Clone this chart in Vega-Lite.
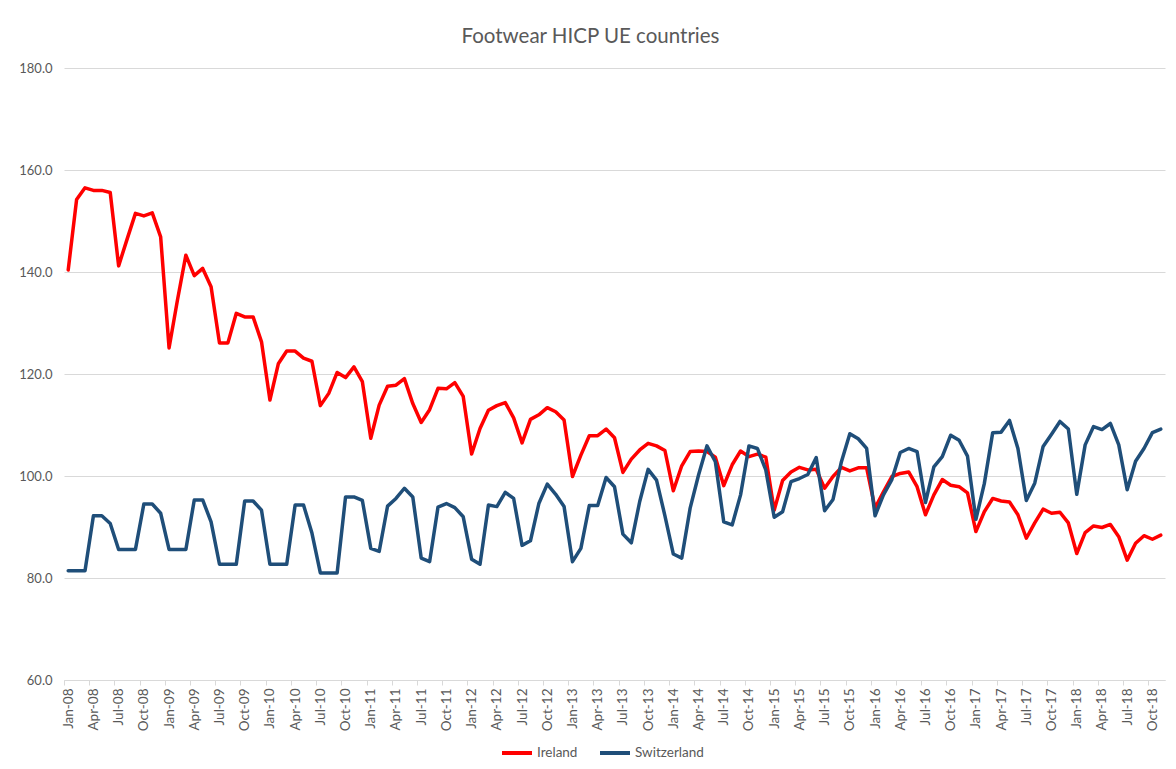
{
  "$schema": "https://vega.github.io/schema/vega-lite/v6.json",
  "autosize": "none",
  "width": 1101,
  "height": 612,
  "padding": {"left": 64, "top": 68, "right": 11, "bottom": 89},
  "background": "white",
  "config": {"font": "Lato", "view": {"stroke": null}},
  "title": {"text": "Footwear HICP UE countries", "fontSize": 20.5, "fontWeight": "normal", "color": "#595959", "font": "Lato", "anchor": "middle", "offset": 15, "dx": -24},
  "data": {"values": [
{"m":"Jan-08","c":"Ireland","v":140.4},{"m":"Feb-08","c":"Ireland","v":154.2},{"m":"Mar-08","c":"Ireland","v":156.5},{"m":"Apr-08","c":"Ireland","v":156.0},{"m":"May-08","c":"Ireland","v":156.0},{"m":"Jun-08","c":"Ireland","v":155.6},{"m":"Jul-08","c":"Ireland","v":141.2},{"m":"Aug-08","c":"Ireland","v":146.4},{"m":"Sep-08","c":"Ireland","v":151.5},{"m":"Oct-08","c":"Ireland","v":151.0},{"m":"Nov-08","c":"Ireland","v":151.6},{"m":"Dec-08","c":"Ireland","v":146.9},
{"m":"Jan-09","c":"Ireland","v":125.1},{"m":"Feb-09","c":"Ireland","v":134.5},{"m":"Mar-09","c":"Ireland","v":143.3},{"m":"Apr-09","c":"Ireland","v":139.3},{"m":"May-09","c":"Ireland","v":140.7},{"m":"Jun-09","c":"Ireland","v":137.1},{"m":"Jul-09","c":"Ireland","v":126.1},{"m":"Aug-09","c":"Ireland","v":126.1},{"m":"Sep-09","c":"Ireland","v":131.9},{"m":"Oct-09","c":"Ireland","v":131.2},{"m":"Nov-09","c":"Ireland","v":131.2},{"m":"Dec-09","c":"Ireland","v":126.3},
{"m":"Jan-10","c":"Ireland","v":114.9},{"m":"Feb-10","c":"Ireland","v":122.0},{"m":"Mar-10","c":"Ireland","v":124.5},{"m":"Apr-10","c":"Ireland","v":124.5},{"m":"May-10","c":"Ireland","v":123.1},{"m":"Jun-10","c":"Ireland","v":122.5},{"m":"Jul-10","c":"Ireland","v":113.8},{"m":"Aug-10","c":"Ireland","v":116.2},{"m":"Sep-10","c":"Ireland","v":120.3},{"m":"Oct-10","c":"Ireland","v":119.3},{"m":"Nov-10","c":"Ireland","v":121.4},{"m":"Dec-10","c":"Ireland","v":118.5},
{"m":"Jan-11","c":"Ireland","v":107.4},{"m":"Feb-11","c":"Ireland","v":113.9},{"m":"Mar-11","c":"Ireland","v":117.6},{"m":"Apr-11","c":"Ireland","v":117.8},{"m":"May-11","c":"Ireland","v":119.1},{"m":"Jun-11","c":"Ireland","v":114.2},{"m":"Jul-11","c":"Ireland","v":110.5},{"m":"Aug-11","c":"Ireland","v":113.0},{"m":"Sep-11","c":"Ireland","v":117.2},{"m":"Oct-11","c":"Ireland","v":117.1},{"m":"Nov-11","c":"Ireland","v":118.3},{"m":"Dec-11","c":"Ireland","v":115.6},
{"m":"Jan-12","c":"Ireland","v":104.3},{"m":"Feb-12","c":"Ireland","v":109.3},{"m":"Mar-12","c":"Ireland","v":112.9},{"m":"Apr-12","c":"Ireland","v":113.8},{"m":"May-12","c":"Ireland","v":114.4},{"m":"Jun-12","c":"Ireland","v":111.4},{"m":"Jul-12","c":"Ireland","v":106.5},{"m":"Aug-12","c":"Ireland","v":111.1},{"m":"Sep-12","c":"Ireland","v":112.0},{"m":"Oct-12","c":"Ireland","v":113.4},{"m":"Nov-12","c":"Ireland","v":112.6},{"m":"Dec-12","c":"Ireland","v":111.0},
{"m":"Jan-13","c":"Ireland","v":99.9},{"m":"Feb-13","c":"Ireland","v":104.1},{"m":"Mar-13","c":"Ireland","v":107.9},{"m":"Apr-13","c":"Ireland","v":107.9},{"m":"May-13","c":"Ireland","v":109.2},{"m":"Jun-13","c":"Ireland","v":107.5},{"m":"Jul-13","c":"Ireland","v":100.7},{"m":"Aug-13","c":"Ireland","v":103.3},{"m":"Sep-13","c":"Ireland","v":105.1},{"m":"Oct-13","c":"Ireland","v":106.4},{"m":"Nov-13","c":"Ireland","v":105.9},{"m":"Dec-13","c":"Ireland","v":105.0},
{"m":"Jan-14","c":"Ireland","v":97.1},{"m":"Feb-14","c":"Ireland","v":102.0},{"m":"Mar-14","c":"Ireland","v":104.8},{"m":"Apr-14","c":"Ireland","v":104.9},{"m":"May-14","c":"Ireland","v":104.8},{"m":"Jun-14","c":"Ireland","v":103.7},{"m":"Jul-14","c":"Ireland","v":98.1},{"m":"Aug-14","c":"Ireland","v":102.2},{"m":"Sep-14","c":"Ireland","v":104.9},{"m":"Oct-14","c":"Ireland","v":103.8},{"m":"Nov-14","c":"Ireland","v":104.3},{"m":"Dec-14","c":"Ireland","v":103.7},
{"m":"Jan-15","c":"Ireland","v":93.3},{"m":"Feb-15","c":"Ireland","v":99.1},{"m":"Mar-15","c":"Ireland","v":100.8},{"m":"Apr-15","c":"Ireland","v":101.7},{"m":"May-15","c":"Ireland","v":101.2},{"m":"Jun-15","c":"Ireland","v":101.3},{"m":"Jul-15","c":"Ireland","v":97.6},{"m":"Aug-15","c":"Ireland","v":99.9},{"m":"Sep-15","c":"Ireland","v":101.7},{"m":"Oct-15","c":"Ireland","v":101.0},{"m":"Nov-15","c":"Ireland","v":101.6},{"m":"Dec-15","c":"Ireland","v":101.6},
{"m":"Jan-16","c":"Ireland","v":93.7},{"m":"Feb-16","c":"Ireland","v":96.9},{"m":"Mar-16","c":"Ireland","v":99.9},{"m":"Apr-16","c":"Ireland","v":100.5},{"m":"May-16","c":"Ireland","v":100.8},{"m":"Jun-16","c":"Ireland","v":97.9},{"m":"Jul-16","c":"Ireland","v":92.4},{"m":"Aug-16","c":"Ireland","v":96.3},{"m":"Sep-16","c":"Ireland","v":99.3},{"m":"Oct-16","c":"Ireland","v":98.2},{"m":"Nov-16","c":"Ireland","v":97.9},{"m":"Dec-16","c":"Ireland","v":96.7},
{"m":"Jan-17","c":"Ireland","v":89.1},{"m":"Feb-17","c":"Ireland","v":93.0},{"m":"Mar-17","c":"Ireland","v":95.6},{"m":"Apr-17","c":"Ireland","v":95.1},{"m":"May-17","c":"Ireland","v":94.9},{"m":"Jun-17","c":"Ireland","v":92.4},{"m":"Jul-17","c":"Ireland","v":87.8},{"m":"Aug-17","c":"Ireland","v":90.8},{"m":"Sep-17","c":"Ireland","v":93.5},{"m":"Oct-17","c":"Ireland","v":92.7},{"m":"Nov-17","c":"Ireland","v":92.9},{"m":"Dec-17","c":"Ireland","v":90.8},
{"m":"Jan-18","c":"Ireland","v":84.8},{"m":"Feb-18","c":"Ireland","v":88.9},{"m":"Mar-18","c":"Ireland","v":90.2},{"m":"Apr-18","c":"Ireland","v":89.9},{"m":"May-18","c":"Ireland","v":90.5},{"m":"Jun-18","c":"Ireland","v":88.1},{"m":"Jul-18","c":"Ireland","v":83.5},{"m":"Aug-18","c":"Ireland","v":86.8},{"m":"Sep-18","c":"Ireland","v":88.3},{"m":"Oct-18","c":"Ireland","v":87.6},{"m":"Nov-18","c":"Ireland","v":88.4},
{"m":"Jan-08","c":"Switzerland","v":81.4},{"m":"Feb-08","c":"Switzerland","v":81.4},{"m":"Mar-08","c":"Switzerland","v":81.4},{"m":"Apr-08","c":"Switzerland","v":92.2},{"m":"May-08","c":"Switzerland","v":92.2},{"m":"Jun-08","c":"Switzerland","v":90.7},{"m":"Jul-08","c":"Switzerland","v":85.6},{"m":"Aug-08","c":"Switzerland","v":85.6},{"m":"Sep-08","c":"Switzerland","v":85.6},{"m":"Oct-08","c":"Switzerland","v":94.5},{"m":"Nov-08","c":"Switzerland","v":94.5},{"m":"Dec-08","c":"Switzerland","v":92.7},
{"m":"Jan-09","c":"Switzerland","v":85.6},{"m":"Feb-09","c":"Switzerland","v":85.6},{"m":"Mar-09","c":"Switzerland","v":85.6},{"m":"Apr-09","c":"Switzerland","v":95.3},{"m":"May-09","c":"Switzerland","v":95.3},{"m":"Jun-09","c":"Switzerland","v":91.0},{"m":"Jul-09","c":"Switzerland","v":82.7},{"m":"Aug-09","c":"Switzerland","v":82.7},{"m":"Sep-09","c":"Switzerland","v":82.7},{"m":"Oct-09","c":"Switzerland","v":95.1},{"m":"Nov-09","c":"Switzerland","v":95.1},{"m":"Dec-09","c":"Switzerland","v":93.3},
{"m":"Jan-10","c":"Switzerland","v":82.7},{"m":"Feb-10","c":"Switzerland","v":82.7},{"m":"Mar-10","c":"Switzerland","v":82.7},{"m":"Apr-10","c":"Switzerland","v":94.3},{"m":"May-10","c":"Switzerland","v":94.3},{"m":"Jun-10","c":"Switzerland","v":88.8},{"m":"Jul-10","c":"Switzerland","v":81.0},{"m":"Aug-10","c":"Switzerland","v":81.0},{"m":"Sep-10","c":"Switzerland","v":81.0},{"m":"Oct-10","c":"Switzerland","v":95.9},{"m":"Nov-10","c":"Switzerland","v":95.9},{"m":"Dec-10","c":"Switzerland","v":95.2},
{"m":"Jan-11","c":"Switzerland","v":85.8},{"m":"Feb-11","c":"Switzerland","v":85.2},{"m":"Mar-11","c":"Switzerland","v":94.1},{"m":"Apr-11","c":"Switzerland","v":95.6},{"m":"May-11","c":"Switzerland","v":97.6},{"m":"Jun-11","c":"Switzerland","v":95.9},{"m":"Jul-11","c":"Switzerland","v":83.9},{"m":"Aug-11","c":"Switzerland","v":83.2},{"m":"Sep-11","c":"Switzerland","v":93.9},{"m":"Oct-11","c":"Switzerland","v":94.6},{"m":"Nov-11","c":"Switzerland","v":93.8},{"m":"Dec-11","c":"Switzerland","v":92.0},
{"m":"Jan-12","c":"Switzerland","v":83.7},{"m":"Feb-12","c":"Switzerland","v":82.7},{"m":"Mar-12","c":"Switzerland","v":94.3},{"m":"Apr-12","c":"Switzerland","v":94.0},{"m":"May-12","c":"Switzerland","v":96.8},{"m":"Jun-12","c":"Switzerland","v":95.6},{"m":"Jul-12","c":"Switzerland","v":86.4},{"m":"Aug-12","c":"Switzerland","v":87.3},{"m":"Sep-12","c":"Switzerland","v":94.6},{"m":"Oct-12","c":"Switzerland","v":98.4},{"m":"Nov-12","c":"Switzerland","v":96.4},{"m":"Dec-12","c":"Switzerland","v":94.0},
{"m":"Jan-13","c":"Switzerland","v":83.2},{"m":"Feb-13","c":"Switzerland","v":85.8},{"m":"Mar-13","c":"Switzerland","v":94.2},{"m":"Apr-13","c":"Switzerland","v":94.2},{"m":"May-13","c":"Switzerland","v":99.7},{"m":"Jun-13","c":"Switzerland","v":97.9},{"m":"Jul-13","c":"Switzerland","v":88.6},{"m":"Aug-13","c":"Switzerland","v":86.9},{"m":"Sep-13","c":"Switzerland","v":95.0},{"m":"Oct-13","c":"Switzerland","v":101.3},{"m":"Nov-13","c":"Switzerland","v":99.2},{"m":"Dec-13","c":"Switzerland","v":92.2},
{"m":"Jan-14","c":"Switzerland","v":84.7},{"m":"Feb-14","c":"Switzerland","v":83.9},{"m":"Mar-14","c":"Switzerland","v":93.7},{"m":"Apr-14","c":"Switzerland","v":100.2},{"m":"May-14","c":"Switzerland","v":105.9},{"m":"Jun-14","c":"Switzerland","v":102.8},{"m":"Jul-14","c":"Switzerland","v":91.0},{"m":"Aug-14","c":"Switzerland","v":90.4},{"m":"Sep-14","c":"Switzerland","v":96.3},{"m":"Oct-14","c":"Switzerland","v":105.9},{"m":"Nov-14","c":"Switzerland","v":105.4},{"m":"Dec-14","c":"Switzerland","v":101.2},
{"m":"Jan-15","c":"Switzerland","v":91.9},{"m":"Feb-15","c":"Switzerland","v":93.0},{"m":"Mar-15","c":"Switzerland","v":98.9},{"m":"Apr-15","c":"Switzerland","v":99.5},{"m":"May-15","c":"Switzerland","v":100.3},{"m":"Jun-15","c":"Switzerland","v":103.6},{"m":"Jul-15","c":"Switzerland","v":93.2},{"m":"Aug-15","c":"Switzerland","v":95.4},{"m":"Sep-15","c":"Switzerland","v":102.8},{"m":"Oct-15","c":"Switzerland","v":108.3},{"m":"Nov-15","c":"Switzerland","v":107.3},{"m":"Dec-15","c":"Switzerland","v":105.4},
{"m":"Jan-16","c":"Switzerland","v":92.2},{"m":"Feb-16","c":"Switzerland","v":96.3},{"m":"Mar-16","c":"Switzerland","v":99.3},{"m":"Apr-16","c":"Switzerland","v":104.6},{"m":"May-16","c":"Switzerland","v":105.4},{"m":"Jun-16","c":"Switzerland","v":104.8},{"m":"Jul-16","c":"Switzerland","v":94.8},{"m":"Aug-16","c":"Switzerland","v":101.8},{"m":"Sep-16","c":"Switzerland","v":103.8},{"m":"Oct-16","c":"Switzerland","v":108.0},{"m":"Nov-16","c":"Switzerland","v":107.0},{"m":"Dec-16","c":"Switzerland","v":103.9},
{"m":"Jan-17","c":"Switzerland","v":91.5},{"m":"Feb-17","c":"Switzerland","v":98.5},{"m":"Mar-17","c":"Switzerland","v":108.5},{"m":"Apr-17","c":"Switzerland","v":108.6},{"m":"May-17","c":"Switzerland","v":110.9},{"m":"Jun-17","c":"Switzerland","v":105.4},{"m":"Jul-17","c":"Switzerland","v":95.2},{"m":"Aug-17","c":"Switzerland","v":98.6},{"m":"Sep-17","c":"Switzerland","v":105.8},{"m":"Oct-17","c":"Switzerland","v":108.2},{"m":"Nov-17","c":"Switzerland","v":110.7},{"m":"Dec-17","c":"Switzerland","v":109.2},
{"m":"Jan-18","c":"Switzerland","v":96.4},{"m":"Feb-18","c":"Switzerland","v":106.1},{"m":"Mar-18","c":"Switzerland","v":109.7},{"m":"Apr-18","c":"Switzerland","v":109.1},{"m":"May-18","c":"Switzerland","v":110.3},{"m":"Jun-18","c":"Switzerland","v":106.1},{"m":"Jul-18","c":"Switzerland","v":97.3},{"m":"Aug-18","c":"Switzerland","v":102.9},{"m":"Sep-18","c":"Switzerland","v":105.4},{"m":"Oct-18","c":"Switzerland","v":108.5},{"m":"Nov-18","c":"Switzerland","v":109.2}
  ]},
  "mark": {"type": "line", "strokeWidth": 3.5, "strokeJoin": "round", "strokeCap": "round"},
  "encoding": {
    "x": {
      "field": "m", "type": "ordinal", "sort": null,
      "scale": {"type": "point", "padding": 0.5},
      "axis": {
        "title": null,
        "values": ["Jan-08","Apr-08","Jul-08","Oct-08","Jan-09","Apr-09","Jul-09","Oct-09","Jan-10","Apr-10","Jul-10","Oct-10","Jan-11","Apr-11","Jul-11","Oct-11","Jan-12","Apr-12","Jul-12","Oct-12","Jan-13","Apr-13","Jul-13","Oct-13","Jan-14","Apr-14","Jul-14","Oct-14","Jan-15","Apr-15","Jul-15","Oct-15","Jan-16","Apr-16","Jul-16","Oct-16","Jan-17","Apr-17","Jul-17","Oct-17","Jan-18","Apr-18","Jul-18","Oct-18"],
        "labelAngle": -90, "labelFontSize": 13.5, "labelColor": "#595959", "labelFont": "Lato",
        "labelPadding": 3, "tickSize": 5, "tickColor": "#d9d9d9", "tickOffset": -4.2, "labelOffset": 4.2,
        "domainColor": "#d9d9d9", "domainWidth": 1, "grid": false
      }
    },
    "y": {
      "field": "v", "type": "quantitative",
      "scale": {"domain": [60, 180], "nice": false, "zero": false},
      "axis": {
        "title": null, "values": [60, 80, 100, 120, 140, 160, 180], "format": ".1f",
        "labelFontSize": 13, "labelColor": "#595959", "labelFont": "Lato", "labelPadding": 12,
        "ticks": false, "domain": false, "grid": true, "gridColor": "#d9d9d9", "gridWidth": 1
      }
    },
    "color": {
      "field": "c", "type": "nominal",
      "scale": {"domain": ["Ireland", "Switzerland"], "range": ["#FF0000", "#1F4E79"]},
      "legend": {
        "title": null, "orient": "none", "legendX": 436, "legendY": 668, "direction": "horizontal",
        "symbolType": "stroke", "symbolSize": 900, "symbolStrokeWidth": 4,
        "labelFontSize": 13.5, "labelColor": "#595959", "labelFont": "Lato", "labelOffset": 3,
        "columnPadding": 14, "padding": 0
      }
    }
  }
}
